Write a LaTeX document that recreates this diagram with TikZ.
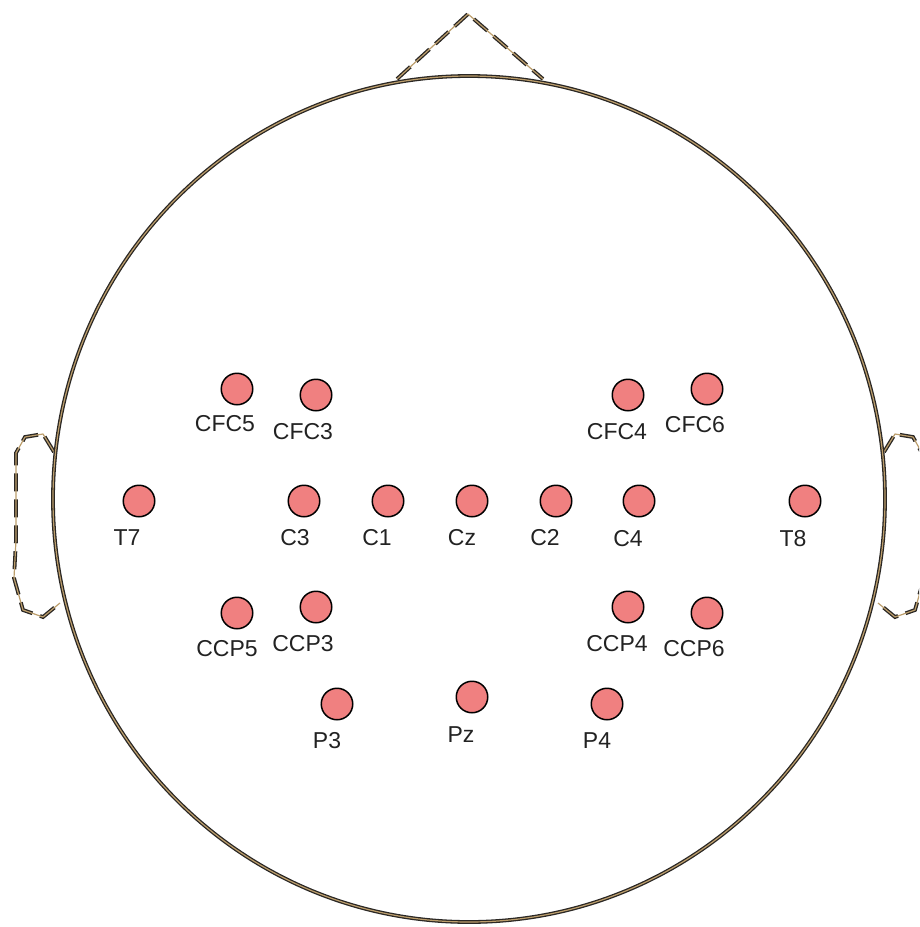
\documentclass[tikz,border=0pt]{standalone}
\usepackage{fontspec}
\setmainfont{Liberation Sans}
\definecolor{outl}{HTML}{2A2724}
\definecolor{tan}{HTML}{BC9E6C}
\definecolor{elfill}{HTML}{F08080}
\definecolor{txt}{HTML}{222222}
\begin{document}
\begin{tikzpicture}[x=1pt,y=-1pt,
  darkline/.style={draw=outl,line width=3.8pt,line join=round},
  tanline/.style={draw=tan,line width=1.2pt,line join=round},
  darkdash/.style={draw=outl,line width=3.8pt,dash pattern=on 18pt off 8pt},
  electrode/.style={circle,draw=black,fill=elfill,line width=1.5pt,minimum size=31.5pt,inner sep=0pt},
  elabel/.style={anchor=base,inner sep=0pt,text=txt,font=\fontsize{23}{27}\selectfont}]
\useasboundingbox (0,0) rectangle (919,927);
\clip (0,0) rectangle (919,927);
% nose
\coordinate (nl) at (397,79);
\coordinate (nt) at (468,14);
\coordinate (nr) at (543,79);
\draw[darkdash] (nl) -- (nt) -- (nr);
\draw[tanline] (nl) -- (nt) -- (nr);
% left ear
\coordinate (le1) at (54,452);
\coordinate (le9) at (60,603);
\draw[darkdash] (le1) -- (43,434) -- (25,437) -- (16,453) -- (16,540) -- (14,578) -- (23,610) -- (43,617) -- (le9);
\draw[tanline] (le1) -- (43,434) -- (25,437) -- (16,453) -- (16,540) -- (14,578) -- (23,610) -- (43,617) -- (le9);
% right ear
\coordinate (re1) at (884,452);
\coordinate (re9) at (878,603);
\draw[darkdash] (re1) -- (895,434) -- (913,437) -- (922,453) -- (922,540) -- (924,578) -- (915,610) -- (895,617) -- (re9);
\draw[tanline] (re1) -- (895,434) -- (913,437) -- (922,453) -- (922,540) -- (924,578) -- (915,610) -- (895,617) -- (re9);
% head
\coordinate (hc) at (469,499);
\draw[darkline] (hc) ellipse [x radius=416, y radius=423];
\draw[tanline] (hc) ellipse [x radius=416, y radius=423];
% electrodes: name/x/y/label x/label y (cap centre)
\foreach \n/\x/\y/\lx/\ly in {
  CFC5/237/389/225/423, CFC3/316/395/303/431, CFC4/628/395/617/431, CFC6/707/389/695/424,
  T7/139/501/127/537, C3/304/501/295/537, C1/388/501/377/537, Cz/472/501/462/537,
  C2/556/501/545/537, C4/639/501/628/538, T8/805/501/793/538,
  CCP5/237/613/227/648, CCP3/316/607/303/643, CCP4/628/607/617/643, CCP6/707/613/694/648,
  P3/337/704/327/740, Pz/472/697/461/734, P4/607/704/597/740} {
  \node[electrode] (e\n) at (\x,\y) {};
  \node[elabel] (l\n) at (\lx,\ly+8.3) {\n};
}
\end{tikzpicture}
\end{document}
